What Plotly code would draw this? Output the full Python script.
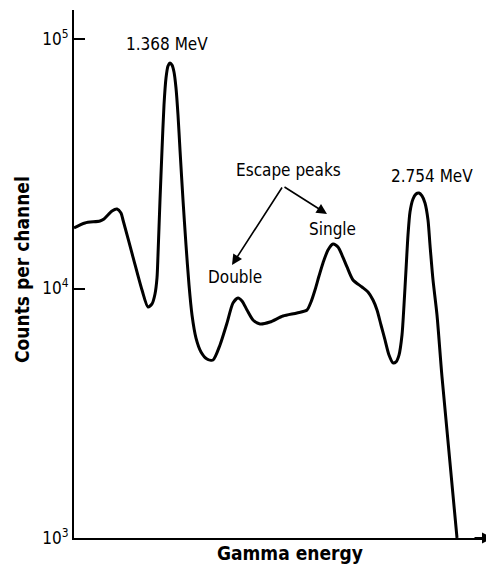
import plotly.graph_objects as go

# Gamma spectrum (x: arbitrary energy channel units)
energy = [0, 11, 26, 30, 38, 43, 47, 49, 59, 68,
          74, 78, 81, 83, 84, 86, 88, 90, 92, 94,
          96, 98, 100, 102, 104, 106, 109, 112, 115, 118,
          122, 127, 133, 139, 146, 153, 159, 164, 168, 173,
          179, 186, 196, 209, 223, 233, 237, 241, 245, 249,
          254, 259, 264, 268, 273, 279, 288, 294, 299, 303,
          307, 311, 315, 319, 322, 325, 328, 330, 332, 334,
          336, 339, 342, 345, 348, 351, 354, 356, 359, 363,
          368, 383]
counts = [17480, 18310, 18650, 19000, 20450, 20830, 20070, 18820, 13370, 9860,
          8430, 8670, 9500, 11020, 13620, 22630, 35910, 54370, 69770, 77950,
          80140, 78670, 73760, 63630, 49590, 35910, 22630, 14940, 10330, 7830,
          6330, 5570, 5220, 5170, 5940, 7270, 8750, 9160, 8910, 8200,
          7480, 7210, 7340, 7760, 7980, 8200, 8830, 9860, 11220, 12660,
          14270, 15080, 14670, 13620, 12200, 10820, 10140, 9680, 8990, 8200,
          7140, 6220, 5410, 5030, 5080, 5410, 6510, 8590, 11870, 16390,
          20260, 22840, 23920, 24140, 23490, 22010, 18820, 14940, 10820, 7830,
          4420, 1000]

tick_vals = [1e3, 1e4, 1e5]
tick_text = ["10<sup>3</sup>", "10<sup>4</sup>", "10<sup>5</sup>"]

FONT = "DejaVu Sans Condensed, DejaVu Sans, sans-serif"
OFF = 8  # page body margin in the browser

fig = go.Figure()
fig.add_trace(go.Scatter(
    x=energy, y=counts, mode="lines",
    line=dict(color="black", width=3, shape="spline", smoothing=0.7),
    hoverinfo="skip", showlegend=False,
))

PL, PR, PT, PB = 74, 493, 10, 538  # plot area in reference pixels


def px2x(px):
    return px - PL


def py2y(py):
    return 3 + (PB - py) / 249.5


annotations = []


def label(text, px, py, size=17):
    annotations.append(dict(
        x=px2x(px), y=py2y(py), xref="x", yref="y", text=text,
        showarrow=False, xanchor="center", yanchor="middle",
        font=dict(family=FONT, size=size, color="black"),
    ))


label("1.368 MeV", 167, 44)
label("2.754 MeV", 432, 176)
label("Escape peaks", 288, 170)
label("Single", 332, 229)
label("Double", 235, 277)

# arrows from the apex under "Escape peaks"
for hx, hy in [(327, 214), (232, 265)]:
    annotations.append(dict(
        x=px2x(hx), y=py2y(hy), xref="x", yref="y",
        ax=283 - hx, ay=186 - hy, axref="pixel", ayref="pixel",
        showarrow=True, arrowhead=2, arrowsize=1.3, arrowwidth=1.6,
        arrowcolor="black", text="", standoff=0,
    ))

# x-axis arrow head
annotations.append(dict(
    x=1, y=0, xref="paper", yref="paper", ax=-20, ay=0,
    showarrow=True, arrowhead=2, arrowsize=1.1, arrowwidth=2,
    arrowcolor="black", text="", standoff=0,
))

# axis titles (positions in reference pixels -> paper)
for text, px, py, ang in [("<b>Gamma energy</b>", 290, 553, 0),
                          ("<b>Counts per channel</b>", 22, 270, -90)]:
    annotations.append(dict(
        x=(px - PL) / (PR - PL), y=(PB - py) / (PB - PT),
        xref="paper", yref="paper", text=text, showarrow=False,
        textangle=ang, font=dict(family=FONT, size=19, color="black"),
        xanchor="center", yanchor="middle",
    ))

fig.update_layout(
    width=494 - OFF, height=566 - OFF,
    margin=dict(l=PL - OFF, r=494 - PR, t=PT - OFF, b=566 - PB),
    paper_bgcolor="white", plot_bgcolor="white",
    annotations=annotations,
    xaxis=dict(range=[0, PR - PL], showgrid=False, zeroline=False,
               showticklabels=False, ticks="", showline=True,
               linecolor="black", linewidth=2),
    yaxis=dict(type="log", range=[3, 3 + (PB - PT) / 249.5], showgrid=False,
               zeroline=False, tickvals=tick_vals, ticktext=tick_text,
               ticks="inside", ticklen=11, tickwidth=2, tickcolor="black",
               showline=True, linecolor="black", linewidth=2,
               tickfont=dict(family=FONT, size=17, color="black")),
)

fig.write_html("out.html")
